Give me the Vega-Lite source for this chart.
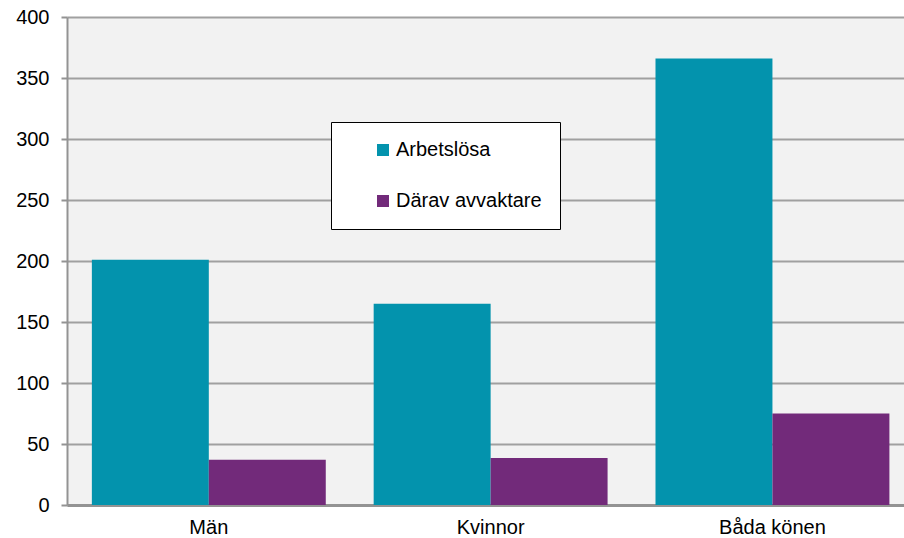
{
  "$schema": "https://vega.github.io/schema/vega-lite/v6.json",
  "autosize": {"type": "none"},
  "width": 837,
  "height": 488,
  "padding": {"left": 67, "top": 17, "right": 0, "bottom": 33},
  "background": "white",
  "config": {
    "font": "Liberation Sans",
    "view": {"fill": "#f2f2f2", "stroke": null}
  },
  "data": {
    "values": [
      {"group": "Män", "series": "Arbetslösa", "value": 201},
      {"group": "Män", "series": "Därav avvaktare", "value": 37},
      {"group": "Kvinnor", "series": "Arbetslösa", "value": 165},
      {"group": "Kvinnor", "series": "Därav avvaktare", "value": 38.5},
      {"group": "Båda könen", "series": "Arbetslösa", "value": 366},
      {"group": "Båda könen", "series": "Därav avvaktare", "value": 75}
    ]
  },
  "mark": {"type": "bar"},
  "encoding": {
    "x": {
      "field": "group",
      "type": "nominal",
      "sort": null,
      "scale": {"paddingInner": 0.17, "paddingOuter": 0.07, "align": 0.63},
      "axis": {
        "title": null,
        "labelAngle": 0,
        "labelFontSize": 20,
        "labelColor": "black",
        "labelPadding": 12,
        "ticks": false,
        "tickSize": 0,
        "domainColor": "#939393",
        "domainWidth": 3
      }
    },
    "xOffset": {"field": "series", "type": "nominal", "sort": null},
    "y": {
      "field": "value",
      "type": "quantitative",
      "scale": {"domain": [0, 400], "nice": false},
      "axis": {
        "title": null,
        "values": [0, 50, 100, 150, 200, 250, 300, 350, 400],
        "labelFontSize": 20,
        "labelColor": "black",
        "labelPadding": 12,
        "tickSize": 6,
        "tickColor": "#939393",
        "tickWidth": 2,
        "domainColor": "#939393",
        "domainWidth": 2,
        "gridColor": "#a0a0a0",
        "gridWidth": 2
      }
    },
    "color": {
      "field": "series",
      "type": "nominal",
      "sort": null,
      "scale": {"domain": ["Arbetslösa", "Därav avvaktare"], "range": ["#0393ad", "#722a7a"]},
      "legend": {
        "title": null,
        "orient": "none",
        "legendX": 264,
        "legendY": 105,
        "direction": "vertical",
        "fillColor": "white",
        "strokeColor": "black",
        "padding": 18,
        "symbolOffset": 24,
        "symbolType": "square",
        "symbolSize": 144,
        "symbolStrokeWidth": 0,
        "labelFontSize": 20,
        "labelColor": "black",
        "labelOffset": 3,
        "rowPadding": 31
      }
    }
  }
}
